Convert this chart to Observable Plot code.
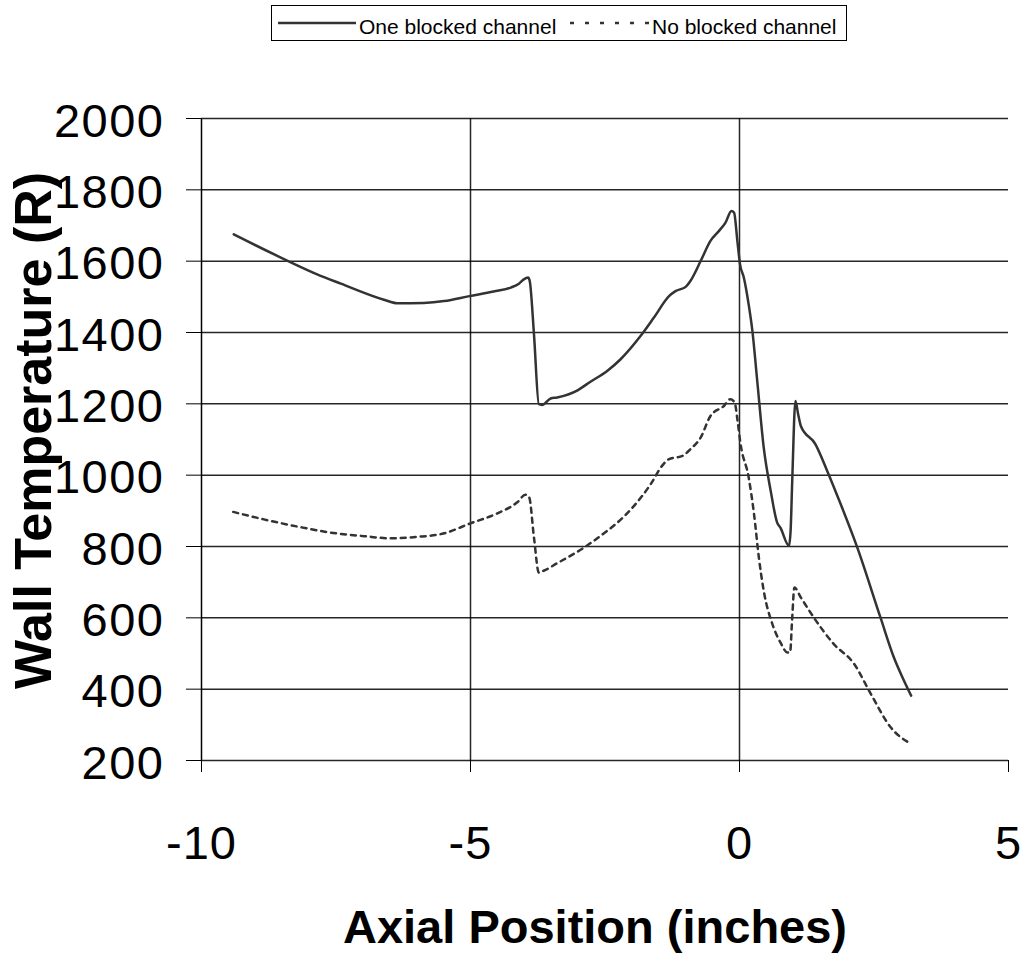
<!DOCTYPE html>
<html>
<head>
<meta charset="utf-8">
<script src="https://cdn.jsdelivr.net/npm/d3@7"></script>
<script src="https://cdn.jsdelivr.net/npm/@observablehq/plot@0.6"></script>
<style>
  body { margin: 0; background: #fff; font-family: "Liberation Sans", Arial, sans-serif; }
  #legend { display: block; }
  #chart svg { display: block; }
  g[aria-label="y-axis tick label"] text { letter-spacing: 1.5px; }
  g[aria-label="x-axis tick label"] text { letter-spacing: 1px; }
</style>
</head>
<body>
<div id="legend"></div>
<div id="chart"></div>
<script>
// ---- data ----
const seriesNames = ["One blocked channel", "No blocked channel"];

const posOne = [-9.40, -8.40, -7.85, -7.41, -6.61, -6.36, -5.87, -5.49, -5.02, -4.57, -4.25, -4.10, -4.01, -3.93, -3.90, -3.82, -3.73, -3.67, -3.51, -3.39, -3.01, -2.77, -2.46, -2.21, -1.84, -1.59, -1.31, -1.19, -1.00, -0.91, -0.72, -0.54, -0.38, -0.26, -0.15, -0.10, -0.04, 0.01, 0.08, 0.17, 0.24, 0.33, 0.45, 0.58, 0.70, 0.76, 0.92, 0.95, 0.98, 1.04, 1.09, 1.14, 1.41, 1.63, 1.88, 2.19, 2.62, 2.87, 3.03, 3.19];
const tempOne = [1675, 1601, 1563, 1537, 1492, 1482, 1483, 1488, 1502, 1515, 1526, 1537, 1549, 1554, 1545, 1395, 1199, 1197, 1215, 1218, 1238, 1262, 1292, 1325, 1390, 1442, 1502, 1516, 1528, 1545, 1601, 1657, 1685, 1708, 1741, 1736, 1657, 1591, 1554, 1479, 1404, 1264, 1078, 956, 867, 853, 802, 844, 984, 1208, 1171, 1138, 1087, 1012, 919, 797, 601, 489, 433, 382];

const posNo = [-9.41, -8.84, -8.22, -7.60, -6.98, -6.49, -5.99, -5.49, -5.00, -4.50, -4.13, -3.98, -3.91, -3.82, -3.73, -3.64, -3.39, -2.89, -2.46, -2.30, -1.96, -1.65, -1.44, -1.31, -1.06, -0.91, -0.72, -0.54, -0.29, -0.17, -0.09, -0.04, 0.02, 0.17, 0.27, 0.36, 0.45, 0.61, 0.76, 0.89, 0.94, 0.98, 1.02, 1.14, 1.38, 1.75, 2.13, 2.44, 2.81, 3.18];
const tempNo = [897, 876, 856, 839, 829, 823, 827, 837, 865, 893, 924, 945, 938, 825, 727, 732, 753, 797, 844, 863, 914, 975, 1026, 1045, 1054, 1073, 1106, 1166, 1194, 1213, 1204, 1157, 1087, 994, 891, 769, 676, 583, 531, 503, 503, 601, 685, 657, 601, 527, 471, 387, 293, 247];

const xTicks = [-10, -5, 0, 5];
const xGrid = [-5, 0];
const yTicks = [200, 400, 600, 800, 1000, 1200, 1400, 1600, 1800, 2000];

const xLabel = "Axial Position (inches)";
const yLabel = "Wall Temperature (R)";

// ---- build table ----
const rowsOne = posOne.map((x, i) => ({series: seriesNames[0], x, t: tempOne[i]}));
const rowsNo = posNo.map((x, i) => ({series: seriesNames[1], x, t: tempNo[i]}));

const FONT = '"Liberation Sans", Arial, sans-serif';
const LINE = "#333";

// ---- legend (above the chart) ----
const lg = d3.select("#legend").append("svg")
  .attr("width", 1026).attr("height", 50)
  .style("display", "block")
  .style("font-family", FONT);
lg.append("rect").attr("x", 271.5).attr("y", 5.5).attr("width", 575).attr("height", 35)
  .attr("fill", "#fff").attr("stroke", "#000").attr("stroke-width", 1);
const items = [
  {name: seriesNames[0], x1: 278, x2: 356, tx: 359, dash: null},
  {name: seriesNames[1], x1: 570, x2: 652, tx: 652, dash: "4,11"}
];
for (const it of items) {
  lg.append("line").attr("x1", it.x1).attr("x2", it.x2).attr("y1", 23).attr("y2", 23)
    .attr("stroke", LINE).attr("stroke-width", 2.5)
    .attr("stroke-dasharray", it.dash);
  lg.append("text").attr("x", it.tx).attr("y", 34).attr("font-size", 21)
    .attr("fill", "#000").text(it.name);
}

// ---- chart ----
const chart = Plot.plot({
  width: 1026,
  height: 910,
  marginTop: 68,
  marginBottom: 200,
  marginLeft: 201,
  marginRight: 18,
  style: {fontFamily: FONT, background: "#fff", color: "#000", overflow: "visible"},
  x: {domain: [-10, 5]},
  y: {domain: [200, 2000]},
  marks: [
    Plot.gridY(yTicks, {stroke: "#000", strokeOpacity: 0.85, strokeWidth: 1.5}),
    Plot.gridX(xGrid, {stroke: "#000", strokeOpacity: 0.85, strokeWidth: 1.5}),
    Plot.ruleX([-10], {stroke: "#000", strokeWidth: 1.5}),
    Plot.axisX(xTicks, {
      tickSize: 12, tickPadding: 53, fontSize: 47,
      tickFormat: d => String(d), label: null
    }),
    // y tick marks
    Plot.axisY(yTicks, {tickSize: 15, tickFormat: () => "", label: null}),
    // y tick labels
    Plot.axisY(yTicks, {
      tickSize: 0, tickPadding: 37, fontSize: 47, dy: 3,
      tickFormat: d => String(d), label: null
    }),
    Plot.text([xLabel], {
      frameAnchor: "bottom", lineAnchor: "middle", textAnchor: "middle",
      dx: -10, dy: 167, fontSize: 47, fontWeight: "bold", fill: "#000"
    }),
    Plot.text([yLabel], {
      frameAnchor: "left", lineAnchor: "middle", textAnchor: "middle", rotate: -90,
      dx: -167, dy: -9, fontSize: 52, fontWeight: "bold", fill: "#000"
    }),
    Plot.line(rowsOne, {x: "x", y: "t", stroke: LINE, strokeWidth: 2.5, curve: "monotone-x"}),
    Plot.line(rowsNo, {x: "x", y: "t", stroke: LINE, strokeWidth: 2.5, strokeDasharray: "5,5", curve: "monotone-x"})
  ]
});
document.getElementById("chart").appendChild(chart);
</script>
</body>
</html>
